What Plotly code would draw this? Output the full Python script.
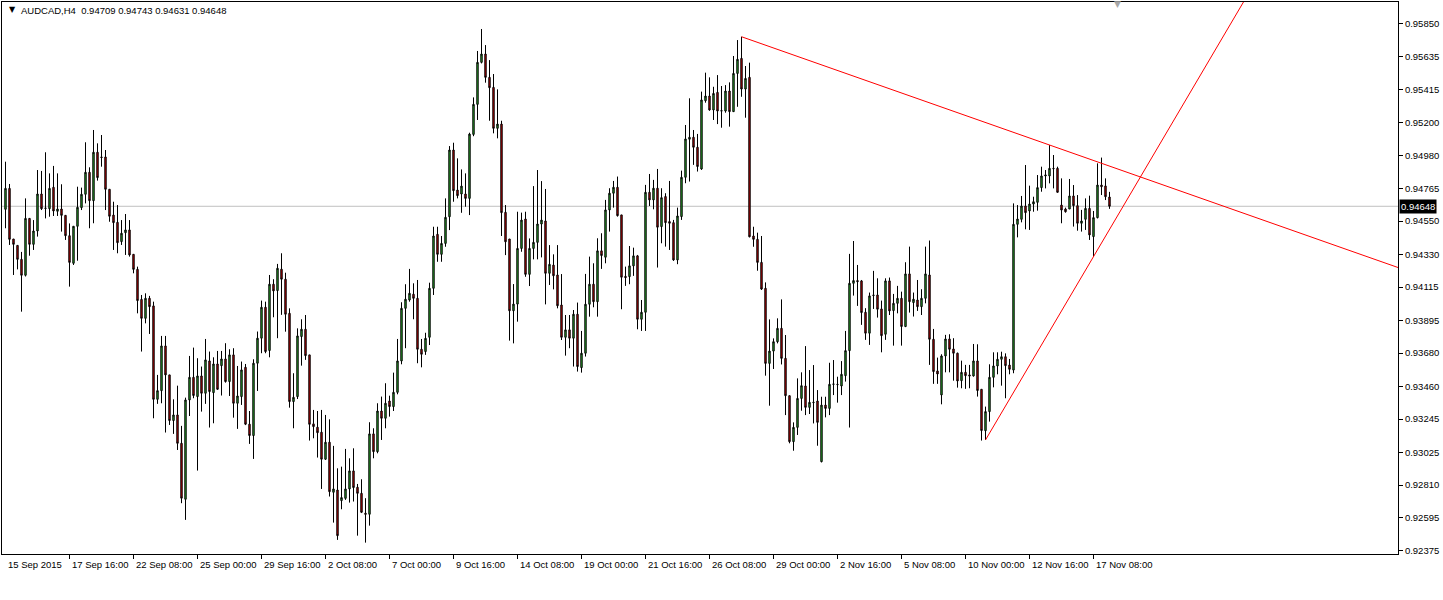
import plotly.graph_objects as go

# ---------------- data (AUDCAD H4, bar index 0 = 15 Sep 2015 00:00) ----------------
open_ = [
    0.94628, 0.94766, 0.94432, 0.94390, 0.94298, 0.94193, 0.94568, 0.94397, 0.94485, 0.94729,
    0.94634, 0.94632, 0.94773, 0.94615, 0.94630, 0.94588, 0.94454, 0.94272, 0.94516, 0.94639,
    0.94727, 0.94872, 0.94685, 0.95004, 0.94973, 0.94973, 0.94760, 0.94590, 0.94542, 0.94415,
    0.94474, 0.94492, 0.94331, 0.94232, 0.94034, 0.93909, 0.94041, 0.93991, 0.93375, 0.93432,
    0.93727, 0.93536, 0.93235, 0.93272, 0.93085, 0.92716, 0.93371, 0.93520, 0.93393, 0.93529,
    0.93415, 0.93628, 0.93419, 0.93608, 0.93597, 0.93641, 0.93492, 0.93668, 0.93349, 0.93393,
    0.93586, 0.93211, 0.93136, 0.93613, 0.93778, 0.93982, 0.93697, 0.94134, 0.94092, 0.94233,
    0.94167, 0.93942, 0.93360, 0.93393, 0.93789, 0.93837, 0.93668, 0.93213, 0.93191, 0.93158,
    0.92980, 0.93092, 0.92762, 0.92777, 0.92707, 0.92722, 0.92784, 0.92903, 0.92795, 0.92755,
    0.92624, 0.92617, 0.93147, 0.93030, 0.93298, 0.93250, 0.93364, 0.93327, 0.93421, 0.93628,
    0.93975, 0.94030, 0.94068, 0.94041, 0.93705, 0.93690, 0.93784, 0.94107, 0.94463, 0.94331,
    0.94403, 0.94579, 0.95019, 0.94755, 0.94729, 0.94729, 0.94700, 0.95122, 0.95320, 0.95597,
    0.95652, 0.95498, 0.95432, 0.95162, 0.95190, 0.94608, 0.94432, 0.93959, 0.94003, 0.94370,
    0.94564, 0.94199, 0.94370, 0.94410, 0.94531, 0.94551, 0.94206, 0.94260, 0.94195, 0.93997,
    0.93784, 0.93833, 0.93778, 0.93936, 0.93584, 0.93679, 0.94002, 0.94134, 0.94019, 0.94354,
    0.94312, 0.94624, 0.94734, 0.94773, 0.94591, 0.94186, 0.94184, 0.94255, 0.94321, 0.93903,
    0.93949, 0.94740, 0.94690, 0.94767, 0.94514, 0.94712, 0.94547, 0.94540, 0.94294, 0.94580,
    0.94839, 0.95090, 0.95103, 0.95037, 0.94894, 0.95344, 0.95375, 0.95283, 0.95399, 0.95276,
    0.95276, 0.95408, 0.95272, 0.95524, 0.95623, 0.95421, 0.95498, 0.94452, 0.94430, 0.94278,
    0.94107, 0.93612, 0.93693, 0.93755, 0.93843, 0.93645, 0.93399, 0.93096, 0.93190, 0.93381,
    0.93463, 0.93322, 0.93353, 0.93364, 0.92964, 0.93337, 0.93315, 0.93474, 0.93474, 0.93463,
    0.93531, 0.93696, 0.94140, 0.94158, 0.94156, 0.93949, 0.93811, 0.94059, 0.94063, 0.93971,
    0.93804, 0.94156, 0.93960, 0.94008, 0.94041, 0.93855, 0.94202, 0.94013, 0.94030, 0.93986,
    0.94041, 0.94195, 0.93771, 0.93562, 0.93404, 0.93661, 0.93773, 0.93707, 0.93679, 0.93498,
    0.93553, 0.93536, 0.93529, 0.93628, 0.93441, 0.93168, 0.93294, 0.93520, 0.93595, 0.93639,
    0.93656, 0.93601, 0.93568, 0.94529, 0.94562, 0.94650, 0.94617, 0.94663, 0.94674, 0.94771,
    0.94848, 0.94848, 0.94898, 0.94898, 0.94656, 0.94630, 0.94630, 0.94716, 0.94652, 0.94536,
    0.94562, 0.94634, 0.94448, 0.94573, 0.94788, 0.94782, 0.94709,
]
high = [
    0.94942, 0.94795, 0.94432, 0.94390, 0.94347, 0.94700, 0.94568, 0.94557, 0.94887, 0.94881,
    0.95004, 0.94865, 0.94914, 0.94865, 0.94793, 0.94588, 0.94535, 0.94516, 0.94777, 0.94771,
    0.95070, 0.94905, 0.95151, 0.95063, 0.95118, 0.95019, 0.94760, 0.94678, 0.94656, 0.94557,
    0.94597, 0.94557, 0.94331, 0.94250, 0.94063, 0.94074, 0.94057, 0.94019, 0.93536, 0.93793,
    0.93793, 0.93536, 0.93375, 0.93465, 0.93200, 0.93386, 0.93661, 0.93716, 0.93646, 0.93591,
    0.93773, 0.93690, 0.93652, 0.93694, 0.93694, 0.93745, 0.93705, 0.93712, 0.93595, 0.93624,
    0.93608, 0.93298, 0.93639, 0.93822, 0.94026, 0.94019, 0.94195, 0.94167, 0.94268, 0.94338,
    0.94210, 0.93975, 0.93547, 0.93843, 0.93903, 0.93931, 0.93668, 0.93305, 0.93298, 0.93305,
    0.93272, 0.93243, 0.93068, 0.92920, 0.92931, 0.93048, 0.92986, 0.93052, 0.92817, 0.92848,
    0.92723, 0.93224, 0.93184, 0.93349, 0.93393, 0.93481, 0.93399, 0.93551, 0.93773, 0.94015,
    0.94134, 0.94235, 0.94140, 0.94162, 0.93773, 0.93814, 0.94144, 0.94513, 0.94513, 0.94452,
    0.94700, 0.95045, 0.95067, 0.94964, 0.94891, 0.94865, 0.95133, 0.95366, 0.95672, 0.95817,
    0.95711, 0.95612, 0.95520, 0.95419, 0.95212, 0.94656, 0.94432, 0.94135, 0.94612, 0.94606,
    0.94612, 0.94436, 0.94781, 0.94887, 0.94814, 0.94762, 0.94392, 0.94331, 0.94392, 0.94201,
    0.93931, 0.93931, 0.93964, 0.94013, 0.93826, 0.94202, 0.94316, 0.94272, 0.94437, 0.94470,
    0.94690, 0.94767, 0.94815, 0.94844, 0.94591, 0.94250, 0.94386, 0.94375, 0.94327, 0.94030,
    0.94789, 0.94861, 0.94822, 0.94894, 0.94767, 0.94734, 0.94815, 0.94558, 0.94639, 0.94883,
    0.95184, 0.95360, 0.95151, 0.95125, 0.95404, 0.95529, 0.95498, 0.95436, 0.95513, 0.95441,
    0.95447, 0.95465, 0.95639, 0.95744, 0.95766, 0.95573, 0.95595, 0.94513, 0.94474, 0.94452,
    0.94146, 0.93902, 0.93777, 0.93909, 0.94034, 0.93799, 0.93399, 0.93223, 0.93513, 0.93553,
    0.93726, 0.93568, 0.93601, 0.93436, 0.93392, 0.93392, 0.93616, 0.93634, 0.93524, 0.93627,
    0.93826, 0.94334, 0.94419, 0.94261, 0.94162, 0.93976, 0.94079, 0.94222, 0.94173, 0.94026,
    0.94173, 0.94178, 0.94070, 0.94123, 0.94085, 0.94279, 0.94382, 0.94079, 0.94162, 0.94101,
    0.94382, 0.94422, 0.93839, 0.93650, 0.93672, 0.93800, 0.93804, 0.93778, 0.93683, 0.93630,
    0.93602, 0.93602, 0.93740, 0.93738, 0.93441, 0.93327, 0.93606, 0.93685, 0.93685, 0.93689,
    0.93678, 0.93641, 0.94667, 0.94656, 0.94716, 0.94920, 0.94784, 0.94711, 0.94854, 0.94909,
    0.94887, 0.95052, 0.94986, 0.94909, 0.94832, 0.94639, 0.94828, 0.94788, 0.94722, 0.94624,
    0.94700, 0.94718, 0.94617, 0.94931, 0.94969, 0.94832, 0.94743,
]
low = [
    0.94503, 0.94393, 0.94195, 0.94232, 0.93953, 0.94185, 0.94322, 0.94360, 0.94448, 0.94623,
    0.94568, 0.94579, 0.94584, 0.94584, 0.94481, 0.94426, 0.94118, 0.94261, 0.94289, 0.94623,
    0.94667, 0.94503, 0.94536, 0.94817, 0.94909, 0.94623, 0.94546, 0.94360, 0.94338, 0.94393,
    0.94327, 0.94316, 0.94206, 0.93942, 0.93690, 0.93876, 0.93806, 0.93250, 0.93345, 0.93349,
    0.93156, 0.93206, 0.93147, 0.93041, 0.92690, 0.92580, 0.93265, 0.93382, 0.92905, 0.93294,
    0.93345, 0.93189, 0.93217, 0.93437, 0.93400, 0.93485, 0.93397, 0.93254, 0.93180, 0.93338,
    0.93205, 0.93081, 0.92982, 0.93430, 0.93679, 0.93679, 0.93652, 0.93916, 0.93778, 0.93932,
    0.93821, 0.93320, 0.93184, 0.93377, 0.93597, 0.93635, 0.93103, 0.93118, 0.92991, 0.92784,
    0.92975, 0.92734, 0.92562, 0.92448, 0.92650, 0.92712, 0.92694, 0.92701, 0.92476, 0.92625,
    0.92430, 0.92542, 0.92986, 0.93019, 0.93107, 0.93184, 0.93261, 0.93298, 0.93408, 0.93606,
    0.93712, 0.94019, 0.93903, 0.93613, 0.93586, 0.93668, 0.93733, 0.94063, 0.94282, 0.94282,
    0.94381, 0.94491, 0.94678, 0.94700, 0.94605, 0.94645, 0.94590, 0.95110, 0.95217, 0.95590,
    0.95463, 0.95212, 0.95129, 0.95096, 0.94452, 0.94326, 0.93762, 0.93744, 0.93887, 0.94348,
    0.94183, 0.94122, 0.94298, 0.94298, 0.94311, 0.94001, 0.94129, 0.94100, 0.93975, 0.93766,
    0.93663, 0.93712, 0.93591, 0.93558, 0.93551, 0.93657, 0.93920, 0.93982, 0.93920, 0.94235,
    0.94272, 0.94481, 0.94639, 0.94580, 0.93969, 0.94123, 0.94134, 0.94189, 0.93837, 0.93826,
    0.93826, 0.94650, 0.94628, 0.94244, 0.94404, 0.94382, 0.94360, 0.94288, 0.94266, 0.94558,
    0.94800, 0.94811, 0.94921, 0.94877, 0.94888, 0.95331, 0.95278, 0.95217, 0.95190, 0.95166,
    0.95265, 0.95173, 0.95270, 0.95304, 0.95370, 0.95232, 0.94443, 0.94381, 0.94223, 0.94096,
    0.93531, 0.93333, 0.93575, 0.93744, 0.93605, 0.93271, 0.93085, 0.93036, 0.93140, 0.93300,
    0.93271, 0.93278, 0.93216, 0.93069, 0.92959, 0.93256, 0.93271, 0.93403, 0.93353, 0.93403,
    0.93492, 0.93189, 0.94059, 0.93991, 0.93866, 0.93767, 0.93734, 0.93971, 0.93914, 0.93685,
    0.93767, 0.93931, 0.93729, 0.93942, 0.93729, 0.93851, 0.93947, 0.93921, 0.93958, 0.93931,
    0.94008, 0.93602, 0.93477, 0.93477, 0.93342, 0.93553, 0.93553, 0.93498, 0.93452, 0.93448,
    0.93444, 0.93448, 0.93525, 0.93393, 0.93103, 0.93107, 0.93228, 0.93454, 0.93540, 0.93465,
    0.93382, 0.93540, 0.93547, 0.94443, 0.94542, 0.94496, 0.94492, 0.94612, 0.94619, 0.94744,
    0.94766, 0.94799, 0.94766, 0.94738, 0.94536, 0.94606, 0.94630, 0.94514, 0.94487, 0.94481,
    0.94492, 0.94426, 0.94316, 0.94568, 0.94722, 0.94689, 0.94631,
]
close = [
    0.94766, 0.94430, 0.94397, 0.94298, 0.94193, 0.94568, 0.94397, 0.94485, 0.94729, 0.94632,
    0.94636, 0.94766, 0.94617, 0.94630, 0.94588, 0.94454, 0.94278, 0.94516, 0.94641, 0.94727,
    0.94872, 0.94685, 0.95004, 0.94837, 0.94970, 0.94760, 0.94582, 0.94540, 0.94408, 0.94470,
    0.94492, 0.94327, 0.94232, 0.94026, 0.93909, 0.94041, 0.93986, 0.93375, 0.93432, 0.93727,
    0.93536, 0.93235, 0.93272, 0.93085, 0.92723, 0.93371, 0.93520, 0.93400, 0.93529, 0.93415,
    0.93635, 0.93426, 0.93608, 0.93441, 0.93641, 0.93492, 0.93668, 0.93349, 0.93397, 0.93569,
    0.93211, 0.93136, 0.93613, 0.93778, 0.93982, 0.93690, 0.94134, 0.94090, 0.94239, 0.94167,
    0.93936, 0.93360, 0.93388, 0.93793, 0.93837, 0.93663, 0.93210, 0.93195, 0.93155, 0.92980,
    0.93092, 0.92766, 0.92784, 0.92476, 0.92727, 0.92784, 0.92903, 0.92793, 0.92755, 0.92630,
    0.92617, 0.93147, 0.93030, 0.93298, 0.93250, 0.93349, 0.93327, 0.93421, 0.93628, 0.93975,
    0.94035, 0.94074, 0.94041, 0.93705, 0.93672, 0.93777, 0.94107, 0.94452, 0.94331, 0.94403,
    0.94575, 0.95019, 0.94751, 0.94718, 0.94781, 0.94700, 0.95124, 0.95320, 0.95597, 0.95652,
    0.95498, 0.95430, 0.95162, 0.95190, 0.94606, 0.94414, 0.93959, 0.94003, 0.94370, 0.94557,
    0.94199, 0.94370, 0.94410, 0.94531, 0.94557, 0.94206, 0.94265, 0.94190, 0.93992, 0.93784,
    0.93833, 0.93778, 0.93936, 0.93591, 0.93679, 0.94002, 0.94134, 0.94019, 0.94354, 0.94323,
    0.94624, 0.94734, 0.94773, 0.94586, 0.94180, 0.94178, 0.94255, 0.94321, 0.93903, 0.93949,
    0.94740, 0.94690, 0.94767, 0.94510, 0.94705, 0.94540, 0.94536, 0.94294, 0.94584, 0.94839,
    0.95092, 0.95103, 0.95037, 0.94910, 0.95349, 0.95375, 0.95283, 0.95392, 0.95276, 0.95278,
    0.95408, 0.95272, 0.95524, 0.95617, 0.95421, 0.95491, 0.94447, 0.94430, 0.94278, 0.94102,
    0.93612, 0.93693, 0.93755, 0.93843, 0.93645, 0.93399, 0.93096, 0.93190, 0.93381, 0.93465,
    0.93322, 0.93355, 0.93355, 0.93223, 0.93337, 0.93315, 0.93474, 0.93476, 0.93472, 0.93540,
    0.93696, 0.94140, 0.94158, 0.94151, 0.93947, 0.93811, 0.94057, 0.94062, 0.93969, 0.93795,
    0.94156, 0.93958, 0.94008, 0.94041, 0.93855, 0.94202, 0.94019, 0.94035, 0.93986, 0.94041,
    0.94202, 0.93771, 0.93558, 0.93542, 0.93661, 0.93773, 0.93705, 0.93679, 0.93496, 0.93553,
    0.93531, 0.93529, 0.93628, 0.93433, 0.93169, 0.93294, 0.93520, 0.93595, 0.93639, 0.93656,
    0.93597, 0.93573, 0.94529, 0.94564, 0.94650, 0.94606, 0.94663, 0.94678, 0.94771, 0.94848,
    0.94854, 0.94898, 0.94896, 0.94740, 0.94623, 0.94612, 0.94716, 0.94652, 0.94536, 0.94551,
    0.94634, 0.94459, 0.94573, 0.94788, 0.94777, 0.94711, 0.94648,
]

x_label_bars = [0, 16, 32, 48, 64, 80, 96, 112, 128, 144, 160, 176, 192, 208, 224, 240, 256, 272]
x_labels = ["15 Sep 2015", "17 Sep 16:00", "22 Sep 08:00", "25 Sep 00:00", "29 Sep 16:00",
            "2 Oct 08:00", "7 Oct 00:00", "9 Oct 16:00", "14 Oct 08:00", "19 Oct 00:00",
            "21 Oct 16:00", "26 Oct 08:00", "29 Oct 00:00", "2 Nov 16:00", "5 Nov 08:00",
            "10 Nov 00:00", "12 Nov 16:00", "17 Nov 08:00"]
y_ticks = [0.95850, 0.95635, 0.95415, 0.95200, 0.94980, 0.94765, 0.94550, 0.94330, 0.94115,
           0.93895, 0.93680, 0.93460, 0.93245, 0.93025, 0.92810, 0.92595, 0.92375]
last_price = 0.94648
header = "AUDCAD,H4  0.94709 0.94743 0.94631 0.94648"

# trend line anchors (bar index, price)
trend_down_bars = [184, 261]
trend_down_prices = [0.95766, 0.95052]
trend_up_bars = [245, 272]
trend_up_prices = [0.93107, 0.94316]

# ---------------- figure ----------------
W, H = 1443, 600
ML, MR, MT, MB = 2, 45, 2, 46
X_RANGE = [-0.875, -0.875 + (W - ML - MR) / 4.0]
Y_RANGE = [0.92355, 0.95995]
FONT = "Liberation Sans, Arial, sans-serif"
GREEN = "#32C832"
RED = "#E00000"

bars = list(range(len(open_)))

fig = go.Figure()
fig.add_trace(go.Candlestick(
    x=bars, open=open_, high=high, low=low, close=close,
    increasing=dict(line=dict(color="black", width=1), fillcolor=GREEN),
    decreasing=dict(line=dict(color="black", width=1), fillcolor=RED),
    whiskerwidth=0, showlegend=False, hoverinfo="skip",
))


def ray(bx, py, end_bar):
    slope = (py[1] - py[0]) / (bx[1] - bx[0])
    return [bx[0], end_bar], [py[0], py[0] + slope * (end_bar - bx[0])]


for bx, py in ((trend_down_bars, trend_down_prices), (trend_up_bars, trend_up_prices)):
    xs, ys = ray(bx, py, X_RANGE[1] + 5)
    fig.add_trace(go.Scatter(x=xs, y=ys, mode="lines", line=dict(color="#FF0000", width=1),
                             showlegend=False, hoverinfo="skip"))

shapes = [dict(type="line", xref="paper", x0=0, x1=1, yref="y", y0=last_price, y1=last_price,
               line=dict(color="#C0C0C0", width=1), layer="below")]

annotations = []
for b, t in zip(x_label_bars, x_labels):
    annotations.append(dict(x=b, xref="x", y=0, yref="paper", yanchor="top", xanchor="left",
                            yshift=-3, xshift=0, text=t, showarrow=False,
                            font=dict(family=FONT, size=9.5, color="black")))
annotations.append(dict(x=1, xref="paper", xanchor="left", xshift=1, y=last_price, yref="y",
                        yanchor="middle", text=f"{last_price:.5f}", showarrow=False,
                        bgcolor="black", borderpad=1,
                        font=dict(family=FONT, size=9.5, color="white")))
annotations.append(dict(x=0, xref="paper", xanchor="left", xshift=5, y=1, yref="paper",
                        yanchor="top", yshift=-1, text="▼", showarrow=False,
                        font=dict(family="DejaVu Sans", size=8, color="black")))
annotations.append(dict(x=0, xref="paper", xanchor="left", xshift=17, y=1, yref="paper",
                        yanchor="top", yshift=-1, text=header, showarrow=False,
                        font=dict(family=FONT, size=9.5, color="black")))
annotations.append(dict(x=278, xref="x", xanchor="center", y=1, yref="paper",
                        yanchor="top", yshift=5, text="▼", showarrow=False,
                        font=dict(family="DejaVu Sans", size=9, color="#A8A8A8")))

fig.update_layout(
    width=W, height=H,
    margin=dict(l=ML, r=MR, t=MT, b=MB, pad=0, autoexpand=False),
    paper_bgcolor="white", plot_bgcolor="white",
    boxgap=0.5,
    showlegend=False,
    shapes=shapes,
    annotations=annotations,
    font=dict(family=FONT, size=9.5, color="black"),
    xaxis=dict(range=X_RANGE, showgrid=False, zeroline=False, showline=True, mirror=True,
               linecolor="black", linewidth=1, ticks="outside", ticklen=4, tickcolor="black",
               tickvals=x_label_bars[1:], ticktext=["" for _ in x_label_bars[1:]],
               rangeslider=dict(visible=False), fixedrange=True, automargin=False),
    yaxis=dict(range=Y_RANGE, side="right", showgrid=False, zeroline=False, showline=True,
               mirror=True, linecolor="black", linewidth=1, ticks="outside", ticklen=4,
               tickcolor="black", tickvals=y_ticks, ticktext=[f"{v:.5f}" for v in y_ticks],
               tickfont=dict(family=FONT, size=9.5, color="black"), fixedrange=True,
               automargin=False),
)

fig.write_html("out.html", config={"displayModeBar": False},
               post_script="document.body.style.margin='0px';")
